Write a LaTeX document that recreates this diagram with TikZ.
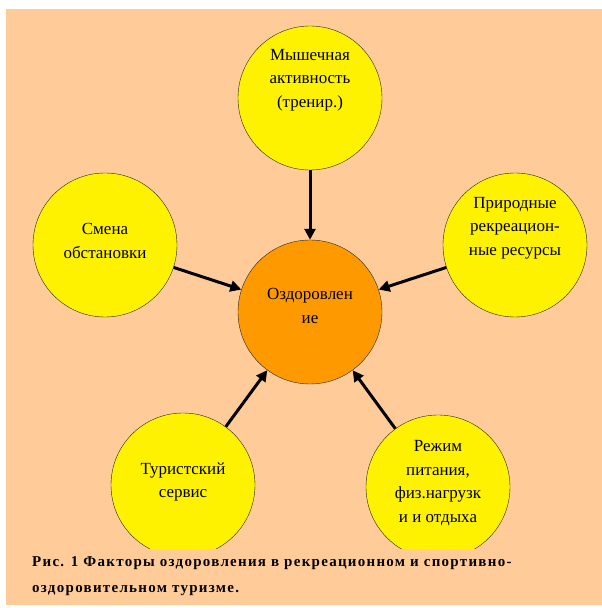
\documentclass[tikz,border=0pt]{standalone}
\usepackage{fontspec}
\setmainfont{Liberation Serif}
\usetikzlibrary{arrows.meta}
\definecolor{peach}{RGB}{255,204,153}
\definecolor{deeporange}{RGB}{255,153,0}
\tikzset{
  factor/.style={circle,draw=black!85,fill=yellow,minimum size=144pt,inner sep=0pt},
  health/.style={factor,fill=deeporange},
  lbl/.style={align=center,font=\fontsize{17}{23.5}\selectfont},
  capline/.style={anchor=base west,inner sep=0pt,
    font=\fontsize{15}{17}\selectfont\bfseries\addfontfeatures{LetterSpace=8.5}},
  arr/.style={line width=3pt,-{Triangle[length=11pt,width=11pt]}}
}
\begin{document}
\begin{tikzpicture}[x=1pt,y=1pt]
  \useasboundingbox (0,0) rectangle (602,608);
  \fill[peach] (6,3) rectangle (602,599);
  % circles
  \node[factor] (mus) at (310,510) {};
  \node[health] (heal) at (310,296) {};
  \node[factor] (env) at (105,363) {};
  \node[factor] (nat) at (515,363) {};
  \node[factor] (serv) at (183,123) {};
  \node[factor] (diet) at (438,121) {};
  % texts
  \node[lbl] (tmus) at ([yshift=18pt]mus.center) {Мышечная\\активность\\(тренир.)};
  \node[lbl] (theal) at ([yshift=6pt]heal.center) {Оздоровлен\\ие};
  \node[lbl] (tenv) at ([yshift=4pt]env.center) {Смена\\обстановки};
  \node[lbl] (tnat) at ([yshift=17pt]nat.center) {Природные\\рекреацион-\\ные ресурсы};
  \node[lbl] (tserv) at ([yshift=3pt]serv.center) {Туристский\\сервис};
  \node[lbl] (tdiet) at ([yshift=4pt]diet.center) {Режим\\питания,\\физ.нагрузк\\и и отдыха};
  % arrows
  \draw[arr] (mus) -- (heal);
  \draw[arr] (env) -- (heal);
  \draw[arr] (nat) -- (heal);
  \draw[arr] (serv) -- (heal);
  \draw[arr] (diet) -- (heal);
  % caption
  \fill[peach] (6,3) rectangle (602,59);
  \node[capline] (cap1) at (32,41) {Рис. 1 Факторы оздоровления в рекреационном и спортивно-};
  \node[capline] (cap2) at (32,16) {оздоровительном туризме.};
\end{tikzpicture}
\end{document}
